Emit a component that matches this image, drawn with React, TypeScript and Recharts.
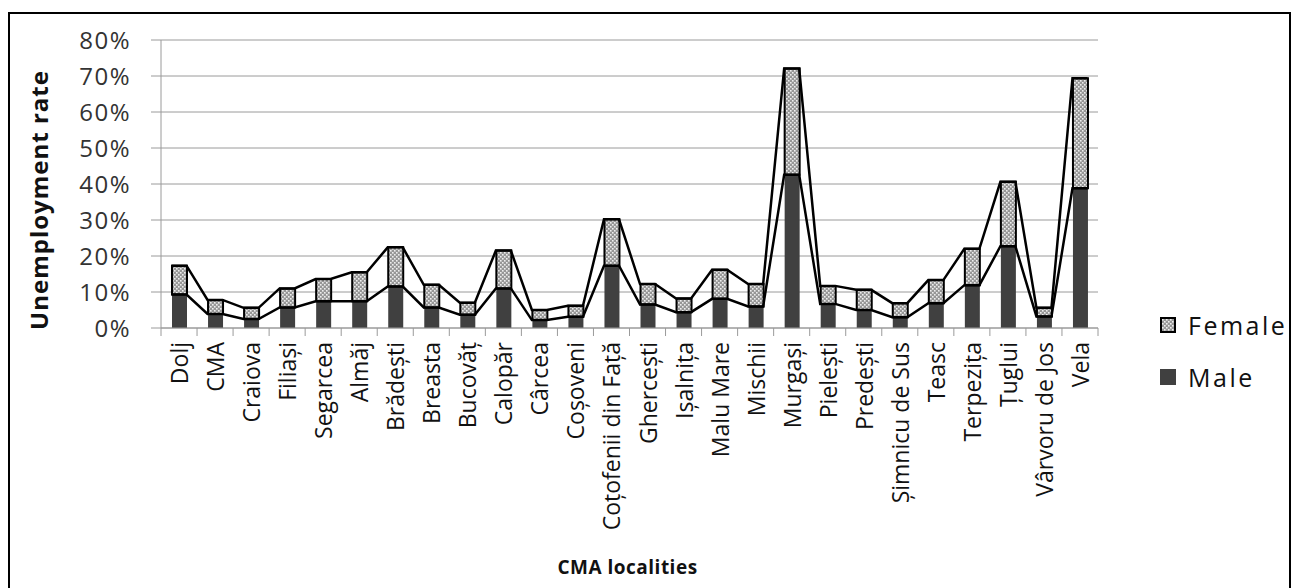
import { ComposedChart, Bar, Line, XAxis, YAxis, CartesianGrid } from "recharts";

const localities = [
  "Dolj", "CMA", "Craiova", "Filiași", "Segarcea", "Almăj", "Brădești", "Breasta", "Bucovăț",
  "Calopăr", "Cârcea", "Coșoveni", "Coțofenii din Față", "Ghercești", "Ișalnița", "Malu Mare",
  "Mischii", "Murgași", "Pielești", "Predești", "Șimnicu de Sus", "Teasc", "Terpezița", "Țuglui",
  "Vârvoru de Jos", "Vela",
];

// unemployment rate, %
const maleRate = [
  9.3, 3.9, 2.5, 5.7, 7.4, 7.4, 11.5, 5.7, 3.7, 11.0, 2.2, 3.1, 17.3,
  6.5, 4.4, 8.1, 6.0, 42.6, 6.7, 5.0, 3.0, 6.9, 11.9, 22.7, 3.2, 38.8,
];
const femaleRate = [
  8.0, 3.9, 3.1, 5.3, 6.2, 8.1, 10.9, 6.3, 3.3, 10.5, 2.8, 3.1, 12.9,
  5.7, 3.8, 8.1, 6.2, 29.5, 5.0, 5.6, 3.9, 6.4, 10.1, 17.9, 2.4, 30.6,
];

const rateTicks = [0, 10, 20, 30, 40, 50, 60, 70, 80];

const rows = localities.map((name, i) => ({
  name,
  male: maleRate[i],
  female: femaleRate[i],
  total: +(maleRate[i] + femaleRate[i]).toFixed(1),
}));

const BAR = 15;
const FONT = "'Open Sans', sans-serif";
const GRID = "#9a9a9a";

// Excel-style series line: runs across the top of each bar, then diagonally to the next one
const seriesLineCurve = (ctx: any) => {
  let first = true;
  const h = BAR / 2;
  return {
    areaStart() {},
    areaEnd() {},
    lineStart() {
      first = true;
    },
    lineEnd() {},
    point(x: number, y: number) {
      if (first) {
        ctx.moveTo(x - h, y);
        first = false;
      } else {
        ctx.lineTo(x - h, y);
      }
      ctx.lineTo(x + h, y);
    },
  };
};

const TICK_GAP = 14;

// locality label rotated upwards, plus tick marks on the category boundaries
const LocalityTick = (props: any) => {
  const { x, y, payload, index } = props;
  const half = payload?.offset ?? 0;
  const axisY = y - TICK_GAP;
  return (
    <g>
      <line x1={x - half} x2={x - half} y1={axisY} y2={axisY + 8} stroke={GRID} />
      {index === localities.length - 1 && (
        <line x1={x + half} x2={x + half} y1={axisY} y2={axisY + 8} stroke={GRID} />
      )}
      <text
        x={x}
        y={y}
        transform={`rotate(-90 ${x} ${y})`}
        textAnchor="end"
        dominantBaseline="central"
        fill="#111"
        fontSize={23}
        fontFamily={FONT}
      >
        {payload.value}
      </text>
    </g>
  );
};

const DotsPattern = ({ id }: { id: string }) => (
  <pattern id={id} width="4" height="4" patternUnits="userSpaceOnUse">
    <rect width="4" height="4" fill="#979797" />
    <rect x="0" y="0" width="1.6" height="1.6" fill="#eeeeee" />
    <rect x="2" y="2" width="1.6" height="1.6" fill="#eeeeee" />
  </pattern>
);

const Legend = () => (
  <div style={{ position: "absolute", left: 1160, top: 310, fontFamily: FONT, fontSize: 25, color: "#111", letterSpacing: 2.5 }}>
    <div style={{ display: "flex", alignItems: "center", height: 30 }}>
      <svg width={16} height={16} style={{ marginRight: 12 }}>
        <defs>
          <DotsPattern id="legendDots" />
        </defs>
        <rect x={1} y={1} width={14} height={14} fill="url(#legendDots)" stroke="#000" strokeWidth={2} />
      </svg>
      Female
    </div>
    <div style={{ display: "flex", alignItems: "center", height: 30, marginTop: 22 }}>
      <svg width={16} height={16} style={{ marginRight: 12 }}>
        <rect x={0} y={0} width={16} height={16} fill="#404040" />
      </svg>
      Male
    </div>
  </div>
);

export default function App() {
  return (
    <div style={{ position: "absolute", left: 0, top: 0, width: 1296, height: 588, fontFamily: FONT, background: "#fff", overflow: "hidden" }}>
      <div
        style={{
          position: "absolute",
          left: 8,
          top: 12,
          width: 1283,
          height: 600,
          border: "2px solid #000",
          boxSizing: "border-box",
        }}
      />
      <div style={{ position: "absolute", left: 0, top: 0 }}>
        <ComposedChart
          width={1296}
          height={588}
          data={rows}
          margin={{ top: 40, right: 198, bottom: 10, left: 20 }}
        >
          <defs>
            <DotsPattern id="femaleDots" />
          </defs>
          <CartesianGrid vertical={false} stroke={GRID} />
          <XAxis
            dataKey="name"
            interval={0}
            height={250}
            tickLine={false}
            tickSize={0}
            tickMargin={TICK_GAP}
            stroke={GRID}
            tick={<LocalityTick />}
            label={({ viewBox }: any) => (
              <text
                x={viewBox.x + viewBox.width / 2 - 2}
                y={viewBox.y + 239}
                textAnchor="middle"
                dominantBaseline="central"
                fontWeight="bold"
                fontSize={19}
                letterSpacing={0.5}
                fontFamily={FONT}
                fill="#111"
              >
                CMA localities
              </text>
            )}
          />
          <YAxis
            width={141}
            domain={[0, 80]}
            ticks={rateTicks}
            tickFormatter={(v: number) => `${v}%`}
            tickSize={10}
            tickMargin={20}
            stroke={GRID}
            tick={{ fill: "#333", fontSize: 24, fontFamily: FONT, letterSpacing: 1.5 }}
            label={({ viewBox }: any) => {
              const cx = viewBox.x + 18;
              const cy = viewBox.y + viewBox.height / 2 + 16;
              return (
                <text
                  x={cx}
                  y={cy}
                  transform={`rotate(-90 ${cx} ${cy})`}
                  textAnchor="middle"
                  dominantBaseline="central"
                  fontWeight="bold"
                  fontSize={24}
                  letterSpacing={1}
                  fontFamily={FONT}
                  fill="#111"
                >
                  Unemployment rate
                </text>
              );
            }}
          />
          <Bar dataKey="male" name="Male" stackId="rate" fill="#404040" barSize={BAR} isAnimationActive={false} />
          <Bar
            dataKey="female"
            name="Female"
            stackId="rate"
            fill="url(#femaleDots)"
            stroke="#000"
            strokeWidth={2}
            barSize={BAR}
            isAnimationActive={false}
          />
          <Line dataKey="male" type={seriesLineCurve as any} stroke="#000" strokeWidth={2.5} dot={false} activeDot={false} legendType="none" isAnimationActive={false} />
          <Line dataKey="total" type={seriesLineCurve as any} stroke="#000" strokeWidth={2.5} dot={false} activeDot={false} legendType="none" isAnimationActive={false} />
        </ComposedChart>
      </div>
      <Legend />
    </div>
  );
}
